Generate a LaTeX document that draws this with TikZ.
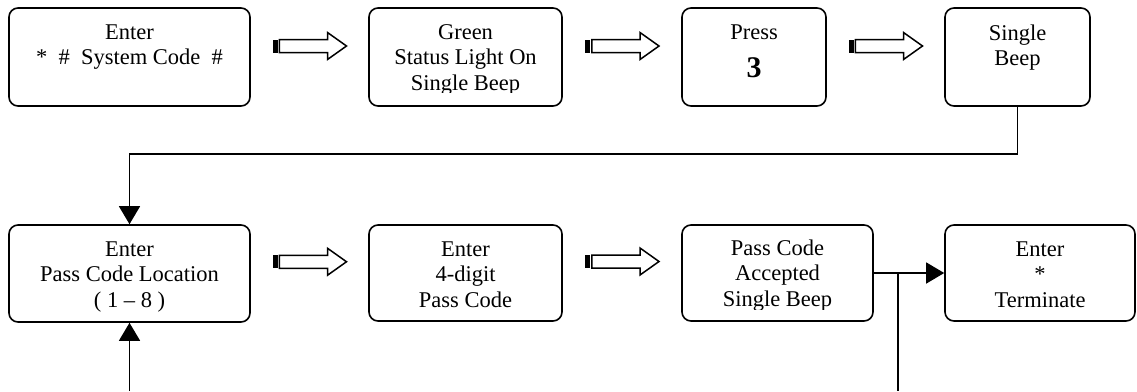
\documentclass[tikz,border=0pt]{standalone}
\usepackage{fontspec}
\setmainfont{Liberation Serif}
\usetikzlibrary{arrows.meta,calc}
\begin{document}
\begin{tikzpicture}[x=1pt,y=-1pt,
  box/.style={draw,line width=1.6pt,rounded corners=9pt,inner sep=0pt,minimum width=#1},
  toprow/.style={minimum height=98pt},
  botrow/.style={minimum height=96pt},
  txt/.style={anchor=north,inner sep=0pt,align=center,font=\fontsize{22.5}{25.5}\selectfont},
  conn/.style={line width=1.4pt},
  tip/.style={-{Triangle[length=18pt,width=21pt]}},
  hollowarrow/.pic={
    \fill (-37,-6.5) rectangle (-32,6.5);
    \draw[line width=1.5pt,line join=miter] (-30.2,-6.5) -- (18,-6.5) -- (18,-13.5) -- (37,0) -- (18,13.5) -- (18,6.5) -- (-30.2,6.5) -- cycle;
  }]
\useasboundingbox (0,0) rectangle (1137,391);

% top row
\node[box=241pt,toprow] (b1) at (129.5,57) {};
\node[box=193pt,toprow] (b2) at (465.5,57) {};
\node[box=144pt,toprow] (b3) at (754,57) {};
\node[box=145pt,toprow] (b4) at (1017.5,57) {};
% bottom row
\node[box=241pt,minimum height=97pt] (b5) at (129.5,273.5) {};
\node[box=193pt,botrow] (b6) at (465.5,273) {};
\node[box=191pt,botrow] (b7) at (777.5,273) {};
\node[box=190pt,botrow] (b8) at (1040,273) {};

% texts
\node[txt] (t1) at ($(b1.north)+(0,17)$) {Enter\\*~~\#~~System Code~~\#};
\begin{scope}
  \clip (369,0) rectangle (562,92.5);
  \node[txt] (t2) at ($(b2.north)+(0,17)$) {Green\\Status Light On\\Single Beep};
\end{scope}
\node[txt] (t3) at ($(b3.north)+(0,17)$) {Press};
\node[anchor=base,inner sep=0pt,font=\fontsize{30}{30}\selectfont\bfseries] (t3b) at ($(b3.north)+(0,70)$) {3};
\node[txt] (t4) at ($(b4.north)+(0,17)$) {Single\\Beep};
\node[txt] (t5) at ($(b5.north)+(0,17)$) {Enter\\Pass Code Location\\(~1 – 8~)};
\node[txt] (t6) at ($(b6.north)+(0,17)$) {Enter\\4-digit\\Pass Code};
\begin{scope}
  \clip (682,200) rectangle (873,309.5);
  \node[txt] (t7) at ($(b7.north)+(0,15)$) {Pass Code\\Accepted\\Single Beep};
\end{scope}
\node[txt] (t8) at ($(b8.north)+(0,17)$) {Enter\\*\\Terminate};

% hollow arrows
\pic at ($(b1.east)!0.5!(b2.west)+(0,-11)$) {hollowarrow};
\pic at ($(b2.east)!0.5!(b3.west)+(0,-11)$) {hollowarrow};
\pic at ($(b3.east)!0.5!(b4.west)+(0,-11)$) {hollowarrow};
\pic at ($(b5.east)!0.5!(b6.west)+(0,-11.5)$) {hollowarrow};
\pic at ($(b6.east)!0.5!(b7.west)+(0,-11.5)$) {hollowarrow};

% connectors
\draw[conn,tip] (b4.south) -- ++(0,47) -| (b5.north);
\coordinate (in5) at (129.5,391);
\draw[conn,tip] (in5) -- (b5.south);
\draw[conn,tip] (b7.east) -- (b8.west);
\coordinate (j) at ($(b7.east)+(24,0)$);
\coordinate (out7) at (j |- in5);
\draw[conn] (j) -- (out7);
\end{tikzpicture}
\end{document}
